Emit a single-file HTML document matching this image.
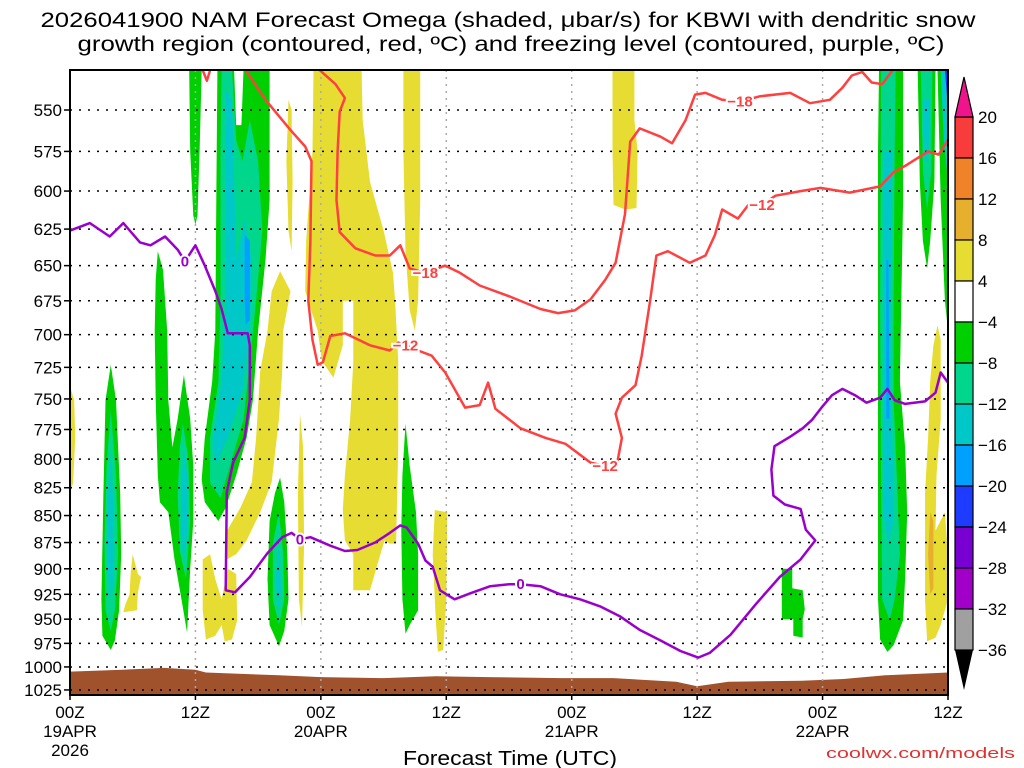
<!DOCTYPE html>
<html><head><meta charset="utf-8">
<style>
html,body{margin:0;padding:0;background:#fff;width:1024px;height:768px;overflow:hidden}
svg{display:block}
text{font-family:"Liberation Sans",sans-serif}
</style></head>
<body>
<svg id="chart" width="1024" height="768" viewBox="0 0 1024 768" xmlns="http://www.w3.org/2000/svg">
<text x="508" y="27" font-size="21" text-anchor="middle" fill="#000" textLength="935" lengthAdjust="spacingAndGlyphs">2026041900 NAM Forecast Omega (shaded, μbar/s) for KBWI with dendritic snow</text>
<text x="511" y="51" font-size="21" text-anchor="middle" fill="#000" textLength="867" lengthAdjust="spacingAndGlyphs">growth region (contoured, red, ºC) and freezing level (contoured, purple, ºC)</text>
<defs><clipPath id="plotclip"><rect x="70" y="70" width="878" height="625"/></clipPath></defs>
<g id="shading" clip-path="url(#plotclip)"></g>
<g id="grid"></g>
<g id="contours" clip-path="url(#plotclip)"></g>
<g id="axes"></g>
<g id="colorbar"></g>
<text x="510" y="765" font-size="20" text-anchor="middle" fill="#000" textLength="214" lengthAdjust="spacingAndGlyphs">Forecast Time (UTC)</text>
<text x="826" y="758" font-size="15" fill="#e03030" textLength="189" lengthAdjust="spacingAndGlyphs">coolwx.com/models</text>
</svg>
<script>
// ---- data ----
const levels = [550,575,600,625,650,675,700,725,750,775,800,825,850,875,900,925,950,975,1000,1025];
const timeTicks = [0,12,24,36,48,60,72,84];
const timeLabels = ["00Z","12Z","00Z","12Z","00Z","12Z","00Z","12Z"];
const dateLabels = ["19APR","","20APR","","21APR","","22APR",""];
const colorbarLevels = [20,16,12,8,4,-4,-8,-12,-16,-20,-24,-28,-32,-36];
const colorbarColors = ["#f83c3c","#f08228","#e6af2d","#e6dc32","#ffffff","#00d000","#00d68c","#00c8c8","#00a0ff","#1e3cff","#7800d2","#a000c8","#a0a0a0"];
const groundTop = [[0,1005],[5,1003],[9,1001],[12,1003],[13,1006],[20,1009],[24,1011],[30,1012],[35,1010],[40,1011],[47,1012],[52,1012],[58,1016],[60,1021],[63,1016],[70,1015],[74,1013],[78,1009],[84,1006]];
const shadeYellow = [
 [[23.3,527],[23.2,575],[22.6,633],[22.5,668],[23.7,697],[24.1,720],[25.2,733],[26.1,708],[26.1,675],[27.1,675],[27.1,721],[26.8,767],[26.3,814],[26.1,845],[26.3,873],[27.1,886],[27.1,921],[28.7,921],[29.7,886],[30.1,873],[30.6,876],[31.2,876],[31.4,790],[31.4,720],[31.1,675],[30.9,655],[30,626],[28.7,594],[28,556],[27.9,527]],
 [[31.9,527],[33.5,527],[33.5,606],[33.3,675],[33,697],[32.5,682],[32.1,640],[31.9,575]],
 [[20.9,544],[21.2,550],[21.3,594],[21.2,640],[20.9,626],[20.7,581]],
 [[20.1,654],[21.1,668],[20.4,697],[20.3,728],[20,766],[19.3,820],[18.2,847],[16.9,873],[15.9,886],[15,891],[14.9,866],[16.3,843],[17.4,820],[17.8,782],[18.2,728],[18.9,697],[19.3,668]],
 [[12.7,891],[13.4,886],[13.9,910],[14.5,930],[15.1,900],[15.9,905],[16,951],[15.5,971],[14.8,973],[14.5,956],[13.9,967],[13,971],[12.7,941]],
 [[6,886],[6.5,905],[6.8,908],[6.5,923],[6.4,941],[5.1,943],[5.3,935],[5.7,925],[5.8,905]],
 [[22,762],[22.3,790],[22.4,876],[22.2,958],[21.9,930],[21.8,830]],
 [[34.9,845],[36.1,847],[36,930],[35.7,982],[35.2,984],[35,951],[34.7,886]],
 [[0,740],[0.4,751],[0.5,782],[0.3,821],[0,830]],
 [[51.9,527],[54,527],[54,556],[54.3,575],[54.2,611],[53.1,612],[52,609],[51.9,575]],
 [[83,693],[83.3,704],[83.3,767],[82.9,814],[82.8,864],[83.7,847],[84,886],[84,930],[83.3,956],[82.8,969],[82,973],[81.8,930],[81.8,830],[82.1,782],[82.3,736],[82.6,708]]
];
const shadeDarkYellow = [
 [[82.3,847],[82.6,855],[82.6,919],[82.3,925],[82.1,886]]
];
const shadeGreen = [
 [[11.4,527],[12.6,527],[12.4,575],[12.2,616],[12,622],[11.8,616],[11.5,575]],
 [[14.1,527],[15.7,527],[15.9,559],[16.4,559],[16.6,527],[19.1,527],[19.1,606],[18.7,646],[18,697],[17.5,751],[16.9,782],[15.9,814],[14.9,843],[14.2,855],[12.9,838],[12.6,818],[12.9,782],[13.6,736],[13.9,697],[14,606]],
 [[8.4,640],[8.9,653],[9.3,697],[9.4,751],[9.8,790],[10.3,766],[10.9,731],[11.5,766],[11.8,806],[11.8,855],[11.5,900],[11.2,964],[10.7,932],[10,891],[9.4,847],[8.6,838],[8.4,814],[8.2,751],[8.1,697],[8.2,660]],
 [[3.9,723],[4.4,751],[4.8,830],[4.9,886],[4.7,941],[4.3,972],[3.9,982],[3.1,967],[3,930],[3.2,830],[3.4,751]],
 [[20.1,816],[20.5,838],[20.8,886],[20.9,930],[20.5,962],[20,978],[19.1,956],[18.9,910],[19.1,855],[19.6,830]],
 [[32.1,770],[32.5,806],[33.1,847],[33.3,886],[33.3,941],[32.5,956],[32.1,965],[31.8,930],[31.7,864],[31.8,814]],
 [[68.1,900],[69.1,900],[69.1,919],[70.1,921],[70.3,940],[70.1,950],[70.1,969],[69.2,967],[69.2,950],[68.1,950]],
 [[77.4,527],[79.7,527],[79.7,606],[79.4,736],[79.9,790],[80.1,847],[79.9,910],[79.7,951],[78.8,977],[78.2,984],[77.5,971],[77.3,930],[77.3,751],[77.3,575]],
 [[81.1,527],[82.8,527],[82.7,594],[82.3,633],[82,652],[81.6,633],[81.3,594]],
 [[83,527],[84,527],[84,697],[83.7,675],[83.3,606]]
];
const shadeTeal = [
 [[14.5,527],[15.5,527],[15.9,568],[16.5,581],[17.2,556],[18,581],[18.4,626],[17.8,675],[17.2,720],[16.6,767],[15.3,806],[14.4,834],[13.4,821],[13.4,782],[14.2,736],[14.4,675],[14.4,575]],
 [[10.8,770],[11.3,798],[11.5,855],[11.1,910],[10.5,883],[10.3,830],[10.5,790]],
 [[3.9,759],[4.4,814],[4.6,886],[4.3,941],[3.9,962],[3.4,941],[3.3,876],[3.5,806]],
 [[20,847],[20.4,886],[20.5,930],[20,956],[19.4,930],[19.4,876]],
 [[77.6,527],[79,527],[78.9,575],[78.8,675],[78.8,751],[79.1,814],[79.4,886],[78.9,930],[78.4,951],[77.7,930],[77.6,830],[77.5,675]],
 [[81.4,527],[82.5,527],[82.4,587],[82,612],[81.6,587]]
];
const shadeCyan = [
 [[14.9,538],[15.5,544],[15.9,646],[16.7,619],[17.4,646],[17.2,697],[16.5,743],[15.1,782],[13.9,806],[13.7,782],[14.5,736],[14.9,675]],
 [[10.9,790],[11.2,814],[11.2,864],[10.9,894],[10.6,864],[10.7,814]],
 [[3.9,798],[4.2,847],[4.2,910],[3.9,930],[3.6,900],[3.6,838]],
 [[20,876],[20.2,921],[19.9,941],[19.7,910]],
 [[77.9,575],[78.7,575],[78.5,675],[78.5,751],[78.8,814],[78.8,855],[78.3,876],[77.8,847],[77.8,751],[77.8,675]],
 [[81.6,544],[82.3,544],[82.1,581],[81.8,581]],
 [[83.3,527],[84,527],[84,594],[83.6,569]]
];
const shadeLightBlue = [
 [[16.7,629],[17.2,633],[17.2,689],[16.8,693],[16.7,675]],
 [[78.1,646],[78.3,646],[78.4,766],[78.1,766]]
];
const shadeBlue = [ [[83.7,527],[84,527],[84,550]] ];
const shadePurple = [ [[83.9,527],[84,527],[84,541]] ];
const contourMinus12 = [[16.8,527],[18.7,544],[21.1,562],[22.5,572],[23.1,581],[23,633],[22.8,675],[23.2,704],[23.7,723],[24.2,721],[24.9,701],[26.3,699],[28.7,708],[30.6,712],[31.4,706],[32.1,708],[33.3,712],[34.6,716],[35.9,729],[37.8,757],[39.2,755],[40,737],[40.7,758],[43.1,774],[45.5,782],[47.4,787],[49.8,803],[51.2,806],[52.4,801],[52.8,782],[52.2,762],[52.8,749],[54.1,739],[54.7,716],[55.5,675],[56.1,643],[57.2,640],[59.3,648],[60.8,643],[61.7,629],[62.4,612],[63.9,618],[64.9,609],[66.2,609],[67.5,603],[69.9,600],[71.8,598],[74.6,601],[77.5,597],[78.8,588],[79.9,584],[82.1,575],[83.1,577],[84,568]];
const contourMinus18 = [[23.9,527],[25.4,535],[26.3,543],[25.8,551],[25.6,575],[25.5,606],[25.8,627],[27.3,638],[29.2,643],[30.6,643],[31.6,636],[32.5,652],[34,655],[35.9,650],[37.3,655],[39.2,664],[42.1,672],[45,681],[46.7,684],[48.3,682],[49.8,674],[51.2,660],[52.2,648],[53.1,615],[53.6,569],[54.5,561],[56.5,566],[57.6,570],[58.9,556],[59.8,541],[60.8,540],[62.4,544],[64.1,545],[66,542],[68.9,540],[70.8,546],[72.7,544],[73.9,537],[74.8,530],[75.8,528],[76.7,534],[77.7,535],[78.7,527]];
const contourMinus12Small = [[12.7,527],[13.1,533],[13.4,527]];
const contourFreezing = [[0,626],[1.9,621],[3.8,630],[5.1,621],[6.7,634],[7.7,636],[9.1,630],[10.3,639],[11,647],[12,636],[12.9,650],[13.9,668],[14.5,681],[15.1,699],[17,699],[17.2,708],[17.2,751],[16.7,782],[15.6,803],[15,829],[14.9,921],[15.8,923],[17.2,908],[18.9,885],[20.3,870],[21.2,866],[22,872],[23,870],[24.9,878],[26.3,883],[27.5,882],[29.2,875],[30.6,866],[31.6,859],[32.2,861],[33.3,876],[34,892],[34.7,898],[35.4,921],[36.8,930],[38.3,924],[40.2,917],[42.1,915],[43.1,915],[45,917],[46.9,925],[48.8,930],[50.7,937],[52.6,947],[54.5,961],[56.5,972],[58.4,983],[60.1,990],[61.2,985],[63.2,966],[65.6,935],[67.9,908],[69.9,891],[71.3,873],[70.4,863],[69.9,844],[68.4,840],[67.3,832],[67.1,809],[67.4,789],[68.9,781],[70.1,774],[71,767],[71.9,757],[72.9,747],[73.9,742],[75.1,747],[76.2,753],[77.5,749],[78.2,742],[78.9,751],[79.9,754],[81.8,752],[82.8,745],[83.3,729],[84,737]];
const labelsRed = [[32.1,708,"−12"],[51.2,806,"−12"],[66.2,609,"−12"],[34,655,"−18"],[64.1,545,"−18"]];
const labelsPurple = [[11,647,"0"],[22,872,"0"],[43.1,915,"0"]];

// ---- scales ----
const X0=70, X1=948, HMAX=84, YTOP=70, YBOT=695;
function x(h){return X0 + h*(X1-X0)/HMAX;}
function y(p){return 110 + 931.6*Math.log(p/550);}
const NS="http://www.w3.org/2000/svg";
function mk(tag, attrs, parent){const e=document.createElementNS(NS,tag);for(const k in attrs)e.setAttribute(k,attrs[k]);parent.appendChild(e);return e;}
function pts(arr){return arr.map(d=>x(d[0]).toFixed(1)+","+y(d[1]).toFixed(1)).join(" ");}

const shading=document.getElementById('shading');
function drawShade(list,color,name){
  list.forEach((poly,i)=>{
    const e=mk('polygon',{points:pts(poly),fill:color},shading);
    
    
  });
}
drawShade(shadeYellow,"#e6dc32","omega-4-8-region");
drawShade(shadeDarkYellow,"#e6af2d","omega-8-12-region");
drawShade(shadeGreen,"#00d000","omega-neg4-neg8-region");
drawShade(shadeTeal,"#00d68c","omega-neg8-neg12-region");
drawShade(shadeCyan,"#00c8c8","omega-neg12-neg16-region");
drawShade(shadeLightBlue,"#00a0ff","omega-neg16-neg20-region");
drawShade(shadeBlue,"#1e3cff","omega-neg20-neg24-region");
drawShade(shadePurple,"#7800d2","omega-neg24-neg28-region");
{
  const g=[[0,1040]].concat(groundTop).concat([[84,1040]]);
  const e=mk('polygon',{points:pts(g),fill:"#a0522d"},shading);
  
  
}

const grid=document.getElementById('grid');
levels.forEach(p=>{
  const e=mk('line',{x1:X0,x2:X1,y1:y(p),y2:y(p),stroke:"#000","stroke-width":1.5,"stroke-dasharray":"2,7"},grid);
  
  
});
timeTicks.slice(1,-1).forEach(h=>{
  const e=mk('line',{x1:x(h),x2:x(h),y1:YTOP,y2:YBOT,stroke:"#aaa","stroke-width":1.5,"stroke-dasharray":"2,5"},grid);
  
  
});

const cont=document.getElementById('contours');
function drawLine(arr,color,name){
  const e=mk('polyline',{points:pts(arr),fill:"none",stroke:color,"stroke-width":2.5,"stroke-linejoin":"round"},cont);
  
  
}
drawLine(contourMinus12,"#ff4040","dgz-contour-minus12");
drawLine(contourMinus18,"#ff4040","dgz-contour-minus18");
drawLine(contourMinus12Small,"#ff4040","dgz-contour-minus12-top");
drawLine(contourFreezing,"#9900cc","freezing-level-contour");
function drawLabels(list,color,name){
  list.forEach(l=>{
    const t=mk('text',{x:x(l[0]),y:y(l[1])+5,"font-size":15,"font-weight":"bold","text-anchor":"middle",fill:color,stroke:"#fff","stroke-width":4,"paint-order":"stroke"},cont);
    t.textContent=l[2];
    
    
  });
}
drawLabels(labelsRed,"#ff4040","dgz-contour-label");
drawLabels(labelsPurple,"#9900cc","freezing-contour-label");

const ax=document.getElementById('axes');
{
  const f=mk('rect',{x:X0,y:YTOP,width:X1-X0,height:YBOT-YTOP,fill:"none",stroke:"#000","stroke-width":2},ax);
  
  
}
levels.forEach(p=>{
  const tk=mk('line',{x1:X0-6,x2:X0,y1:y(p),y2:y(p),stroke:"#000","stroke-width":1.5},ax);
  
  
  const t=mk('text',{x:62,y:y(p)+6,"font-size":17,"text-anchor":"end",fill:"#000"},ax);
  t.textContent=p;
  
  
});
timeTicks.forEach((h,i)=>{
  const tk=mk('line',{x1:x(h),x2:x(h),y1:YBOT,y2:YBOT+5,stroke:"#000","stroke-width":1.5},ax);
  
  
  const t=mk('text',{x:x(h),y:718,"font-size":17,"text-anchor":"middle",fill:"#000"},ax);
  t.textContent=timeLabels[i];
  
  
  if(dateLabels[i]){
    const d=mk('text',{x:x(h),y:737,"font-size":17,"text-anchor":"middle",fill:"#000"},ax);
    d.textContent=dateLabels[i];
    
    
  }
});
{
  const yr=mk('text',{x:x(0),y:756,"font-size":17,"text-anchor":"middle",fill:"#000"},ax);
  yr.textContent="2026";
  
  
}

const cb=document.getElementById('colorbar');
const CBX=955, CBW=18, CBT=117, CBSTEP=41;
colorbarColors.forEach((c,i)=>{
  const r=mk('rect',{x:CBX,y:CBT+i*CBSTEP,width:CBW,height:CBSTEP,fill:c,stroke:"#000","stroke-width":1.2},cb);
  
  
});
{
  const up=mk('polygon',{points:`${CBX},${CBT} ${CBX+CBW},${CBT} ${CBX+CBW/2},${CBT-40}`,fill:"#f0148c",stroke:"#000","stroke-width":1.2},cb);
  
  
  const bot=CBT+colorbarColors.length*CBSTEP;
  const dn=mk('polygon',{points:`${CBX},${bot} ${CBX+CBW},${bot} ${CBX+CBW/2},${bot+40}`,fill:"#000"},cb);
  
  
}
colorbarLevels.forEach((v,i)=>{
  const t=mk('text',{x:978,y:CBT+i*CBSTEP+6,"font-size":17,fill:"#000"},cb);
  t.textContent=(v<0?"−"+(-v):String(v));
  
  
});
</script>
</body></html>
